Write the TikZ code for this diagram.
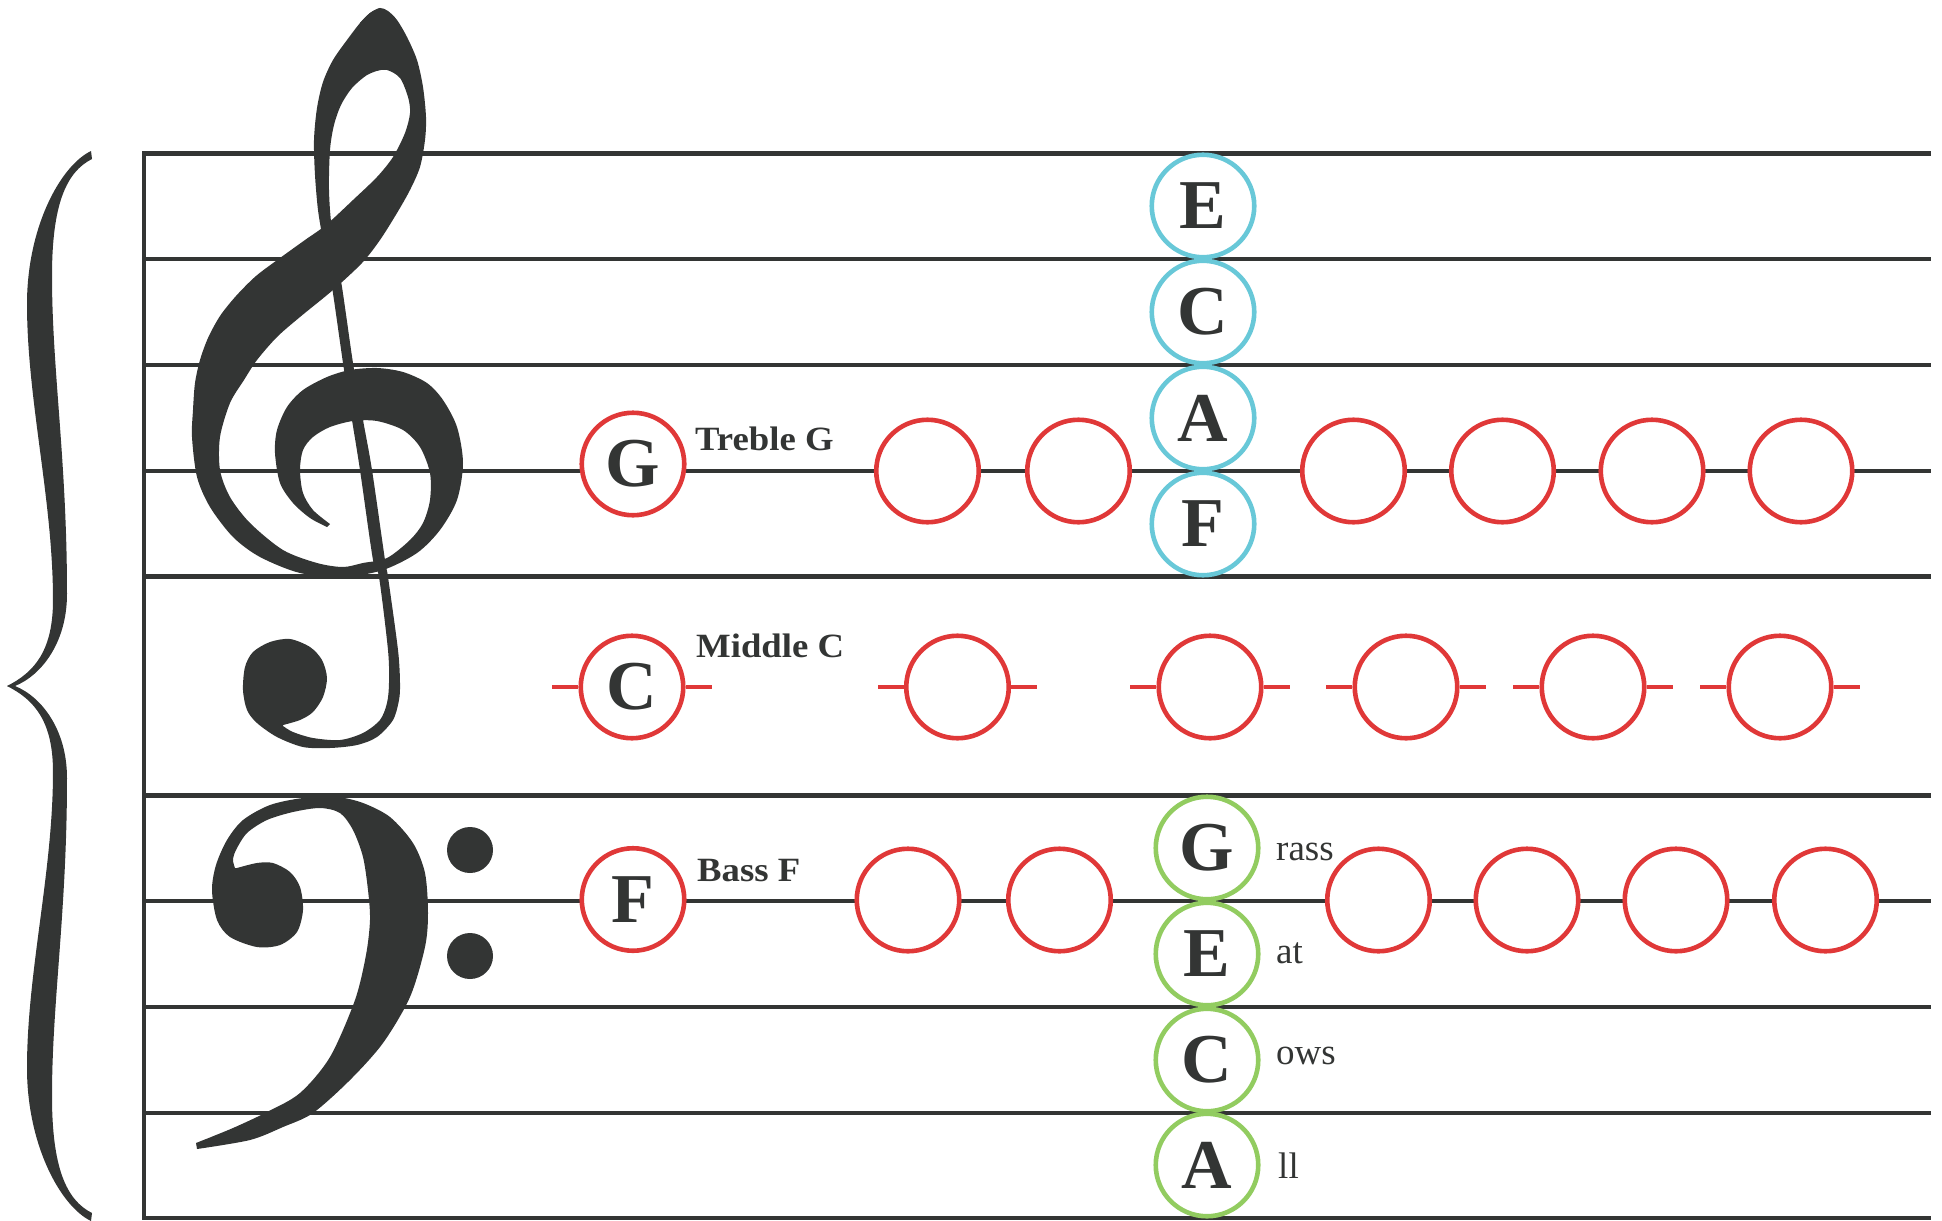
\documentclass[tikz,border=0pt]{standalone}
\usepackage{fontspec}
\setmainfont{Liberation Serif}
\newfontfamily\tagfont{Liberation Serif}[FakeStretch=1.08]
\definecolor{ink}{RGB}{51,53,52}
\definecolor{notered}{RGB}{224,56,56}
\definecolor{spacecyan}{RGB}{104,200,216}
\definecolor{linegreen}{RGB}{146,204,96}

\begin{document}
\begin{tikzpicture}[x=1pt,y=-1pt,
  staff/.style={draw=ink,line width=4.5pt},
  glyph/.style={fill=ink},
  note/.style={circle,draw=notered,line width=4.6pt,fill=white,minimum size=102.5pt,
    inner sep=0pt,text=ink,font=\fontsize{70}{70}\selectfont\bfseries},
  spacenote/.style={note,draw=spacecyan},
  linenote/.style={note,draw=linegreen},
  ledger/.style={draw=notered,line width=4.4pt},
  tag/.style={anchor=base west,inner sep=0pt,text=ink,font=\tagfont\fontsize{34}{34}\selectfont\bfseries},
  word/.style={anchor=base west,inner sep=0pt,text=ink,font=\fontsize{37}{37}\selectfont}]

  \useasboundingbox (0,0) rectangle (1942,1220);

  \foreach \y in {153.5,259,365,471,576.5,795.5,901,1007,1113,1218}
    \draw[staff] (144,\y) -- (1931,\y);
  \draw[staff,line cap=rect] (144,153.5) -- (144,1218);

  % brace
  \foreach \s/\d in {1/0,-1/1372}
    \fill[glyph,shift={(0,\d)},yscale=\s]
      (91,151) .. controls (60,166) and (27,228) .. (27,304)
      .. controls (27,400) and (53,500) .. (53,600)
      .. controls (53,650) and (35,672) .. (7,686)
      -- (15,686) .. controls (42,675) and (67,642) .. (67,594)
      .. controls (67,460) and (52,370) .. (52,276)
      .. controls (52,205) and (66,172) .. (92,159) -- cycle;

  % treble clef
  \fill[glyph]
    plot[smooth] coordinates {(360,23) (370,13) (380,8) (388,11) (397,20) (407,37) (417,60) (423,87) (426,117) (425,140) (420,167) (410,190) (397,213) (380,240) (362,263) (333,290) (300,317) (277,337) (257,360) (244,380) (230,403) (220,437) (220,470) (230,497) (250,523) (283,550) (317,563) (343,567) (363,563) (387,558) (410,540) (423,523) (430,500) (430,473) (420,447) (403,430) (377,421) (353,421) (330,427) (313,437) (303,450) (300,470) (303,493) (313,510) (330,524)}
    -- plot[smooth] coordinates {(327,527) (310,518) (293,503) (280,483) (275,453) (277,430) (287,407) (303,390) (327,377) (350,370) (377,368) (403,372) (427,383) (443,400) (457,427) (463,463) (457,500) (440,530) (417,553) (383,570) (343,577) (300,573) (260,557) (233,537) (210,507) (197,477) (192,437) (193,410) (195,383) (200,360) (208,338) (220,316) (236,296) (256,276) (280,258) (305,240) (326,225) (353,200) (377,177) (393,157) (405,133) (410,113) (408,97) (400,78) (387,70) (375,71)}
    -- cycle;
  \fill[glyph]
    plot[smooth] coordinates {(380,8) (370,13) (360,23) (347,40) (333,60) (323,82) (317,108) (314,140) (315,175) (318,210) (323,240) (332,287) (343,363) (352,420) (360,470) (373,560) (379,577) (388,650) (389,683) (387,703) (380,720) (363,733) (340,740) (313,738) (293,732) (283,726)}
    -- plot[smooth] coordinates {(283,725) (300,720) (313,712) (323,697) (327,678) (322,660) (310,647) (290,639) (270,642) (253,652) (245,667) (243,690) (247,710) (257,723) (277,737) (303,747) (330,748) (357,745) (377,737) (393,720) (399,700) (400,683) (398,650) (388,577) (385,560) (372,470) (363,420) (353,363) (342,287) (332,230) (329,190) (330,150) (334,125) (341,105) (352,88) (367,75) (380,70)}
    -- cycle;

  % bass clef
  \fill[glyph]
    plot[smooth] coordinates {(197,1149) (250,1140) (283,1127) (313,1113) (350,1080) (383,1043) (410,997) (425,947) (428,913) (425,873) (413,843) (390,817) (363,803) (337,797) (303,798) (270,805) (243,820) (227,840) (216,865) (212,890) (217,920) (230,937) (257,947) (280,945) (297,932) (303,910) (300,887) (290,872) (273,863) (257,863) (237,868)}
    -- plot[smooth] coordinates {(235,868) (233,860) (236,850) (247,833) (267,820) (293,812) (320,808) (340,813) (353,830) (363,857) (368,890) (370,920) (366,955) (355,1000) (330,1057) (300,1093) (267,1112) (233,1128) (196,1143)}
    -- cycle;
  \fill[glyph] (470,850) circle[radius=23] (470,956) circle[radius=23];

  % treble line G
  \node[note] (trebG) at (633,464) {G};
  \foreach \x [count=\i] in {927.5,1078.5,1353.5,1502.5,1652,1801}
    \node[note] (treb\i) at (\x,471) {};
  \node[tag] (trebTag) at (695,450) {Treble G};

  % middle C
  \node[note] (midC) at (632,687) {C};
  \foreach \x [count=\i] in {957.5,1210,1406,1593,1780}
    \node[note] (mid\i) at (\x,687) {};
  \foreach \n in {midC,mid1,mid2,mid3,mid4,mid5}
    \draw[ledger] (\n.west) -- ++(-26,0) (\n.east) -- ++(26,0);
  \node[tag] (midTag) at (696,657) {Middle C};

  % bass line F
  \node[note] (bassF) at (633,899.5) {F};
  \foreach \x [count=\i] in {908,1059.5,1378.5,1527,1676,1825.5}
    \node[note] (bass\i) at (\x,900) {};
  \node[tag] (bassTag) at (697,881) {Bass F};

  % spaces and lines
  \foreach \l/\y [count=\i] in {E/206,C/312,A/418,F/524}
    \node[spacenote] (space\i) at (1203,\y) {\l};
  \foreach \l/\y [count=\i] in {G/848,E/954,C/1060,A/1165}
    \node[linenote] (line\i) at (1207,\y) {\l};
  \node[word] (grass) at (1276,860) {rass};
  \node[word] (eat) at (1276,963) {at};
  \node[word] (cows) at (1276,1064) {ows};
  \node[word] (all) at (1278,1178) {ll};
\end{tikzpicture}
\end{document}
